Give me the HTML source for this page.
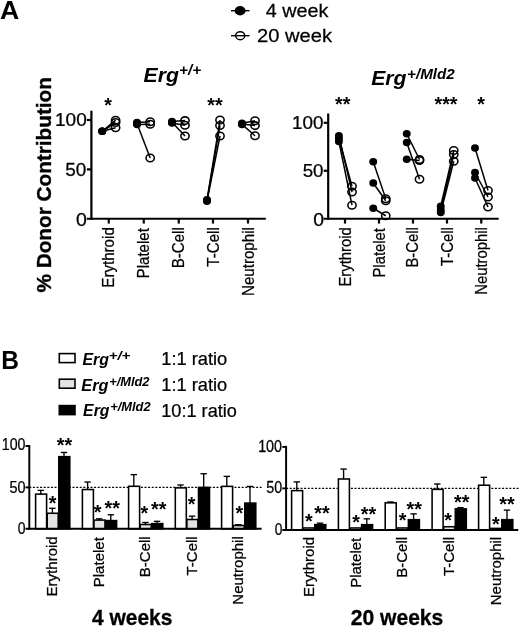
<!DOCTYPE html>
<html><head><meta charset="utf-8"><title>Figure</title>
<style>html,body{margin:0;padding:0;background:#fff}</style></head>
<body>
<svg width="520" height="633" viewBox="0 0 520 633" style="display:block">
<rect width="520" height="633" fill="#fff"/>
<g font-family='"Liberation Sans", sans-serif' fill="#000">
<text transform="translate(0.10 19.00) scale(1.0667 1)" font-size="25" font-weight="bold">A</text>
<text transform="translate(1.18 368.80) scale(0.9836 1)" font-size="25" font-weight="bold">B</text>
<line x1="231" y1="10.7" x2="249.5" y2="10.7" stroke="#000" stroke-width="1.4" />
<ellipse cx="240.1" cy="10.7" rx="5.5" ry="4.7" fill="#000"/>
<line x1="231" y1="35.7" x2="249.5" y2="35.7" stroke="#000" stroke-width="1.4" />
<ellipse cx="240.2" cy="35.7" rx="4.5" ry="4.0" fill="none" stroke="#000" stroke-width="1.5"/>
<text transform="translate(265.80 17.30) scale(1.0301 1)" font-size="19.2" stroke="#000" stroke-width="0.25">4 week</text>
<text transform="translate(256.99 41.80) scale(1.0502 1)" font-size="19.2" stroke="#000" stroke-width="0.25">20 week</text>
<text transform="translate(143.58 81.50) scale(1.0721 1)" font-size="19.8" font-weight="bold" font-style="italic">Erg</text>
<text transform="translate(179.08 75.20) scale(1.1083 1)" font-size="13.8" font-weight="bold" font-style="italic">+/+</text>
<text transform="translate(371.18 85.00) scale(1.0721 1)" font-size="19.8" font-weight="bold" font-style="italic">Erg</text>
<text transform="translate(407.09 78.80) scale(1.1023 1)" font-size="13.8" font-weight="bold" font-style="italic">+/Mld2</text>
<text transform="translate(51.20 292.52) rotate(-90) scale(0.9932 1)" font-size="20.9" font-weight="bold" stroke="#000" stroke-width="0.35">% Donor Contribution</text>
<line x1="91.4" y1="110.7" x2="91.4" y2="219.85" stroke="#000" stroke-width="2.2" />
<line x1="86.9" y1="218.75" x2="265.8" y2="218.75" stroke="#000" stroke-width="2.2" />
<line x1="86.9" y1="169.375" x2="91.4" y2="169.375" stroke="#000" stroke-width="2.2" />
<line x1="86.9" y1="120.0" x2="91.4" y2="120.0" stroke="#000" stroke-width="2.2" />
<text transform="translate(54.98 126.00) scale(1.0573 1)" font-size="18" stroke="#000" stroke-width="0.25">100</text>
<text transform="translate(65.24 175.70) scale(1.0518 1)" font-size="18" stroke="#000" stroke-width="0.25">50</text>
<text transform="translate(76.12 225.60) scale(1.0880 1)" font-size="18" stroke="#000" stroke-width="0.25">0</text>
<line x1="108.75" y1="218.75" x2="108.75" y2="223.55" stroke="#000" stroke-width="2.2" />
<line x1="143.75" y1="218.75" x2="143.75" y2="223.55" stroke="#000" stroke-width="2.2" />
<line x1="178.75" y1="218.75" x2="178.75" y2="223.55" stroke="#000" stroke-width="2.2" />
<line x1="213" y1="218.75" x2="213" y2="223.55" stroke="#000" stroke-width="2.2" />
<line x1="248" y1="218.75" x2="248" y2="223.55" stroke="#000" stroke-width="2.2" />
<text transform="translate(113.75 287.67) rotate(-90) scale(0.9000 1)" font-size="16.8" stroke="#000" stroke-width="0.25">Erythroid</text>
<text transform="translate(148.75 278.45) rotate(-90) scale(0.9000 1)" font-size="16.8" stroke="#000" stroke-width="0.25">Platelet</text>
<text transform="translate(183.75 268.32) rotate(-90) scale(0.9000 1)" font-size="16.8" stroke="#000" stroke-width="0.25">B-Cell</text>
<text transform="translate(219.00 266.66) rotate(-90) scale(0.9000 1)" font-size="16.8" stroke="#000" stroke-width="0.25">T-Cell</text>
<text transform="translate(254.00 295.99) rotate(-90) scale(0.9000 1)" font-size="16.8" stroke="#000" stroke-width="0.25">Neutrophil</text>
<line x1="102.2" y1="131.3" x2="115.6" y2="120.2" stroke="#000" stroke-width="1.5" />
<line x1="102.2" y1="131.3" x2="115.6" y2="122.5" stroke="#000" stroke-width="1.5" />
<line x1="102.2" y1="131.3" x2="115.6" y2="127.8" stroke="#000" stroke-width="1.5" />
<ellipse cx="102.2" cy="131.3" rx="3.95" ry="3.75" fill="#000"/>
<ellipse cx="102.2" cy="131.3" rx="3.95" ry="3.75" fill="#000"/>
<ellipse cx="102.2" cy="131.3" rx="3.95" ry="3.75" fill="#000"/>
<ellipse cx="115.6" cy="120.2" rx="4.15" ry="3.75" fill="none" stroke="#000" stroke-width="1.55"/>
<ellipse cx="115.6" cy="122.5" rx="4.15" ry="3.75" fill="none" stroke="#000" stroke-width="1.55"/>
<ellipse cx="115.6" cy="127.8" rx="4.15" ry="3.75" fill="none" stroke="#000" stroke-width="1.55"/>
<line x1="137" y1="122.6" x2="150.2" y2="121.8" stroke="#000" stroke-width="1.5" />
<line x1="137" y1="124.6" x2="150.2" y2="124.2" stroke="#000" stroke-width="1.5" />
<line x1="137" y1="123.6" x2="150.2" y2="158" stroke="#000" stroke-width="1.5" />
<ellipse cx="137" cy="122.6" rx="3.95" ry="3.75" fill="#000"/>
<ellipse cx="137" cy="124.6" rx="3.95" ry="3.75" fill="#000"/>
<ellipse cx="137" cy="123.6" rx="3.95" ry="3.75" fill="#000"/>
<ellipse cx="150.2" cy="121.8" rx="4.15" ry="3.75" fill="none" stroke="#000" stroke-width="1.55"/>
<ellipse cx="150.2" cy="124.2" rx="4.15" ry="3.75" fill="none" stroke="#000" stroke-width="1.55"/>
<ellipse cx="150.2" cy="158" rx="4.15" ry="3.75" fill="none" stroke="#000" stroke-width="1.55"/>
<line x1="172" y1="121.6" x2="185" y2="120.6" stroke="#000" stroke-width="1.5" />
<line x1="172" y1="123" x2="185" y2="125.3" stroke="#000" stroke-width="1.5" />
<line x1="172" y1="122.3" x2="185" y2="136" stroke="#000" stroke-width="1.5" />
<ellipse cx="172" cy="121.6" rx="3.95" ry="3.75" fill="#000"/>
<ellipse cx="172" cy="123" rx="3.95" ry="3.75" fill="#000"/>
<ellipse cx="172" cy="122.3" rx="3.95" ry="3.75" fill="#000"/>
<ellipse cx="185" cy="120.6" rx="4.15" ry="3.75" fill="none" stroke="#000" stroke-width="1.55"/>
<ellipse cx="185" cy="125.3" rx="4.15" ry="3.75" fill="none" stroke="#000" stroke-width="1.55"/>
<ellipse cx="185" cy="136" rx="4.15" ry="3.75" fill="none" stroke="#000" stroke-width="1.55"/>
<line x1="207" y1="199.8" x2="220" y2="120" stroke="#000" stroke-width="1.5" />
<line x1="207" y1="200.6" x2="220" y2="125.4" stroke="#000" stroke-width="1.5" />
<line x1="207" y1="201.2" x2="220" y2="136" stroke="#000" stroke-width="1.5" />
<ellipse cx="207" cy="199.8" rx="3.95" ry="3.75" fill="#000"/>
<ellipse cx="207" cy="200.6" rx="3.95" ry="3.75" fill="#000"/>
<ellipse cx="207" cy="201.2" rx="3.95" ry="3.75" fill="#000"/>
<ellipse cx="220" cy="120" rx="4.15" ry="3.75" fill="none" stroke="#000" stroke-width="1.55"/>
<ellipse cx="220" cy="125.4" rx="4.15" ry="3.75" fill="none" stroke="#000" stroke-width="1.55"/>
<ellipse cx="220" cy="136" rx="4.15" ry="3.75" fill="none" stroke="#000" stroke-width="1.55"/>
<line x1="242" y1="123.3" x2="255" y2="120.8" stroke="#000" stroke-width="1.5" />
<line x1="242" y1="123.9" x2="255" y2="125.6" stroke="#000" stroke-width="1.5" />
<line x1="242" y1="124.4" x2="255" y2="135.8" stroke="#000" stroke-width="1.5" />
<ellipse cx="242" cy="123.3" rx="3.95" ry="3.75" fill="#000"/>
<ellipse cx="242" cy="123.9" rx="3.95" ry="3.75" fill="#000"/>
<ellipse cx="242" cy="124.4" rx="3.95" ry="3.75" fill="#000"/>
<ellipse cx="255" cy="120.8" rx="4.15" ry="3.75" fill="none" stroke="#000" stroke-width="1.55"/>
<ellipse cx="255" cy="125.6" rx="4.15" ry="3.75" fill="none" stroke="#000" stroke-width="1.55"/>
<ellipse cx="255" cy="135.8" rx="4.15" ry="3.75" fill="none" stroke="#000" stroke-width="1.55"/>
<text transform="translate(104.26 111.75) scale(0.9600 1)" font-size="20.5" font-weight="bold">*</text>
<text transform="translate(207.32 111.75) scale(0.9600 1)" font-size="20.5" font-weight="bold">**</text>
<line x1="328.2" y1="113.5" x2="328.2" y2="219.85" stroke="#000" stroke-width="2.2" />
<line x1="323.7" y1="218.75" x2="498.7" y2="218.75" stroke="#000" stroke-width="2.2" />
<line x1="323.7" y1="170.775" x2="328.2" y2="170.775" stroke="#000" stroke-width="2.2" />
<line x1="323.7" y1="122.8" x2="328.2" y2="122.8" stroke="#000" stroke-width="2.2" />
<text transform="translate(291.99 128.70) scale(1.0466 1)" font-size="18" stroke="#000" stroke-width="0.25">100</text>
<text transform="translate(302.65 176.70) scale(1.0410 1)" font-size="18" stroke="#000" stroke-width="0.25">50</text>
<text transform="translate(313.23 225.50) scale(1.0764 1)" font-size="18" stroke="#000" stroke-width="0.25">0</text>
<line x1="345" y1="218.75" x2="345" y2="223.55" stroke="#000" stroke-width="2.2" />
<line x1="379" y1="218.75" x2="379" y2="223.55" stroke="#000" stroke-width="2.2" />
<line x1="413" y1="218.75" x2="413" y2="223.55" stroke="#000" stroke-width="2.2" />
<line x1="447" y1="218.75" x2="447" y2="223.55" stroke="#000" stroke-width="2.2" />
<line x1="481.25" y1="218.75" x2="481.25" y2="223.55" stroke="#000" stroke-width="2.2" />
<text transform="translate(350.80 286.61) rotate(-90) scale(0.9000 1)" font-size="16.5" stroke="#000" stroke-width="0.25">Erythroid</text>
<text transform="translate(384.80 277.55) rotate(-90) scale(0.9000 1)" font-size="16.5" stroke="#000" stroke-width="0.25">Platelet</text>
<text transform="translate(418.40 267.60) rotate(-90) scale(0.9000 1)" font-size="16.5" stroke="#000" stroke-width="0.25">B-Cell</text>
<text transform="translate(452.70 265.97) rotate(-90) scale(0.9000 1)" font-size="16.5" stroke="#000" stroke-width="0.25">T-Cell</text>
<text transform="translate(486.70 294.78) rotate(-90) scale(0.9000 1)" font-size="16.5" stroke="#000" stroke-width="0.25">Neutrophil</text>
<line x1="338.9" y1="135.75" x2="352" y2="192" stroke="#000" stroke-width="1.5" />
<line x1="338.9" y1="138.75" x2="352" y2="186.25" stroke="#000" stroke-width="1.5" />
<line x1="338.9" y1="141.5" x2="352" y2="205.2" stroke="#000" stroke-width="1.5" />
<ellipse cx="338.9" cy="135.75" rx="3.95" ry="3.75" fill="#000"/>
<ellipse cx="338.9" cy="138.75" rx="3.95" ry="3.75" fill="#000"/>
<ellipse cx="338.9" cy="141.5" rx="3.95" ry="3.75" fill="#000"/>
<ellipse cx="352" cy="192" rx="4.15" ry="3.75" fill="none" stroke="#000" stroke-width="1.55"/>
<ellipse cx="352" cy="186.25" rx="4.15" ry="3.75" fill="none" stroke="#000" stroke-width="1.55"/>
<ellipse cx="352" cy="205.2" rx="4.15" ry="3.75" fill="none" stroke="#000" stroke-width="1.55"/>
<line x1="373.25" y1="161.75" x2="385.75" y2="198.75" stroke="#000" stroke-width="1.5" />
<line x1="373.25" y1="183" x2="385.75" y2="200.75" stroke="#000" stroke-width="1.5" />
<line x1="373.25" y1="208.25" x2="385.75" y2="215.75" stroke="#000" stroke-width="1.5" />
<ellipse cx="373.25" cy="161.75" rx="3.95" ry="3.75" fill="#000"/>
<ellipse cx="373.25" cy="183" rx="3.95" ry="3.75" fill="#000"/>
<ellipse cx="373.25" cy="208.25" rx="3.95" ry="3.75" fill="#000"/>
<ellipse cx="385.75" cy="198.75" rx="4.15" ry="3.75" fill="none" stroke="#000" stroke-width="1.55"/>
<ellipse cx="385.75" cy="200.75" rx="4.15" ry="3.75" fill="none" stroke="#000" stroke-width="1.55"/>
<ellipse cx="385.75" cy="215.75" rx="4.15" ry="3.75" fill="none" stroke="#000" stroke-width="1.55"/>
<line x1="406.75" y1="133.75" x2="419.5" y2="159.5" stroke="#000" stroke-width="1.5" />
<line x1="406.75" y1="142.5" x2="419.5" y2="179.25" stroke="#000" stroke-width="1.5" />
<line x1="406.75" y1="159.25" x2="419.5" y2="160.5" stroke="#000" stroke-width="1.5" />
<ellipse cx="406.75" cy="133.75" rx="3.95" ry="3.75" fill="#000"/>
<ellipse cx="406.75" cy="142.5" rx="3.95" ry="3.75" fill="#000"/>
<ellipse cx="406.75" cy="159.25" rx="3.95" ry="3.75" fill="#000"/>
<ellipse cx="419.5" cy="159.5" rx="4.15" ry="3.75" fill="none" stroke="#000" stroke-width="1.55"/>
<ellipse cx="419.5" cy="179.25" rx="4.15" ry="3.75" fill="none" stroke="#000" stroke-width="1.55"/>
<ellipse cx="419.5" cy="160.5" rx="4.15" ry="3.75" fill="none" stroke="#000" stroke-width="1.55"/>
<line x1="440.75" y1="206.25" x2="453.75" y2="150.5" stroke="#000" stroke-width="1.5" />
<line x1="440.75" y1="210" x2="453.75" y2="154.5" stroke="#000" stroke-width="1.5" />
<line x1="440.75" y1="212.5" x2="453.75" y2="161.25" stroke="#000" stroke-width="1.5" />
<ellipse cx="440.75" cy="206.25" rx="3.95" ry="3.75" fill="#000"/>
<ellipse cx="440.75" cy="210" rx="3.95" ry="3.75" fill="#000"/>
<ellipse cx="440.75" cy="212.5" rx="3.95" ry="3.75" fill="#000"/>
<ellipse cx="453.75" cy="150.5" rx="4.15" ry="3.75" fill="none" stroke="#000" stroke-width="1.55"/>
<ellipse cx="453.75" cy="154.5" rx="4.15" ry="3.75" fill="none" stroke="#000" stroke-width="1.55"/>
<ellipse cx="453.75" cy="161.25" rx="4.15" ry="3.75" fill="none" stroke="#000" stroke-width="1.55"/>
<line x1="475" y1="148" x2="488" y2="190.5" stroke="#000" stroke-width="1.5" />
<line x1="475" y1="172.5" x2="488" y2="197" stroke="#000" stroke-width="1.5" />
<line x1="475" y1="178" x2="488" y2="207" stroke="#000" stroke-width="1.5" />
<ellipse cx="475" cy="148" rx="3.95" ry="3.75" fill="#000"/>
<ellipse cx="475" cy="172.5" rx="3.95" ry="3.75" fill="#000"/>
<ellipse cx="475" cy="178" rx="3.95" ry="3.75" fill="#000"/>
<ellipse cx="488" cy="190.5" rx="4.15" ry="3.75" fill="none" stroke="#000" stroke-width="1.55"/>
<ellipse cx="488" cy="197" rx="4.15" ry="3.75" fill="none" stroke="#000" stroke-width="1.55"/>
<ellipse cx="488" cy="207" rx="4.15" ry="3.75" fill="none" stroke="#000" stroke-width="1.55"/>
<text transform="translate(335.02 110.70) scale(0.9600 1)" font-size="20.5" font-weight="bold">**</text>
<text transform="translate(434.49 110.70) scale(0.9600 1)" font-size="20.5" font-weight="bold">***</text>
<text transform="translate(477.26 110.70) scale(0.9600 1)" font-size="20.5" font-weight="bold">*</text>
<rect x="59.3" y="353.6" width="15.7" height="9" fill="#fff" stroke="#000" stroke-width="1.6"/>
<rect x="59.3" y="379.2" width="15.7" height="9" fill="#e3e3e3" stroke="#000" stroke-width="1.6"/>
<rect x="59.3" y="405.6" width="15.7" height="9" fill="#000" stroke="#000" stroke-width="1.6"/>
<text transform="translate(82.48 364.70) scale(1.0096 1)" font-size="15.8" font-weight="bold" font-style="italic">Erg</text>
<text transform="translate(108.70 360.00) scale(1.2500 1)" font-size="12" font-weight="bold" font-style="italic">+/+</text>
<text transform="translate(161.24 364.60) scale(0.9724 1)" font-size="18.8" stroke="#000" stroke-width="0.25">1:1 ratio</text>
<text transform="translate(81.37 391.00) scale(1.0290 1)" font-size="15.8" font-weight="bold" font-style="italic">Erg</text>
<text transform="translate(109.13 386.20) scale(1.0722 1)" font-size="12" font-weight="bold" font-style="italic">+/Mld2</text>
<text transform="translate(161.24 391.40) scale(0.9724 1)" font-size="18.8" stroke="#000" stroke-width="0.25">1:1 ratio</text>
<text transform="translate(83.08 416.00) scale(1.0018 1)" font-size="15.8" font-weight="bold" font-style="italic">Erg</text>
<text transform="translate(110.13 410.70) scale(1.0749 1)" font-size="12" font-weight="bold" font-style="italic">+/Mld2</text>
<text transform="translate(161.25 416.80) scale(0.9666 1)" font-size="18.8" stroke="#000" stroke-width="0.25">10:1 ratio</text>
<line x1="29.3" y1="487.4" x2="261.6" y2="487.4" stroke="#000" stroke-width="1.25" stroke-dasharray="2 1.6"/>
<line x1="40.8" y1="490.37125" x2="40.8" y2="494.1175" stroke="#000" stroke-width="1.35" />
<line x1="37.599999999999994" y1="490.37125" x2="44.0" y2="490.37125" stroke="#000" stroke-width="1.35" />
<rect x="35.6" y="494.1175" width="11.0" height="34.68249999999995" fill="#fff" stroke="#000" stroke-width="1.55"/>
<line x1="52.4" y1="508.27" x2="52.4" y2="513.265" stroke="#000" stroke-width="1.35" />
<line x1="49.199999999999996" y1="508.27" x2="55.6" y2="508.27" stroke="#000" stroke-width="1.35" />
<rect x="47.2" y="513.265" width="11.0" height="15.534999999999968" fill="#e3e3e3" stroke="#000" stroke-width="1.55"/>
<line x1="64.0" y1="452.4925" x2="64.0" y2="456.655" stroke="#000" stroke-width="1.35" />
<line x1="60.8" y1="452.4925" x2="67.2" y2="452.4925" stroke="#000" stroke-width="1.35" />
<rect x="58.800000000000004" y="456.655" width="11.0" height="72.14499999999998" fill="#000" stroke="#000" stroke-width="1.55"/>
<line x1="87.6" y1="482.04625" x2="87.6" y2="489.53875" stroke="#000" stroke-width="1.35" />
<line x1="84.39999999999999" y1="482.04625" x2="90.8" y2="482.04625" stroke="#000" stroke-width="1.35" />
<rect x="82.39999999999999" y="489.53875" width="11.0" height="39.26124999999996" fill="#fff" stroke="#000" stroke-width="1.55"/>
<line x1="99.19999999999999" y1="518.84275" x2="99.19999999999999" y2="520.0915" stroke="#000" stroke-width="1.35" />
<line x1="95.99999999999999" y1="518.84275" x2="102.39999999999999" y2="518.84275" stroke="#000" stroke-width="1.35" />
<rect x="93.99999999999999" y="520.0915" width="11.0" height="8.708499999999958" fill="#e3e3e3" stroke="#000" stroke-width="1.55"/>
<line x1="110.8" y1="514.7635" x2="110.8" y2="520.591" stroke="#000" stroke-width="1.35" />
<line x1="107.6" y1="514.7635" x2="114.0" y2="514.7635" stroke="#000" stroke-width="1.35" />
<rect x="105.6" y="520.591" width="11.0" height="8.208999999999946" fill="#000" stroke="#000" stroke-width="1.55"/>
<line x1="133.8" y1="474.637" x2="133.8" y2="486.29200000000003" stroke="#000" stroke-width="1.35" />
<line x1="130.60000000000002" y1="474.637" x2="137.0" y2="474.637" stroke="#000" stroke-width="1.35" />
<rect x="128.6" y="486.29200000000003" width="11.0" height="42.507999999999925" fill="#fff" stroke="#000" stroke-width="1.55"/>
<line x1="145.4" y1="522.50575" x2="145.4" y2="524.50375" stroke="#000" stroke-width="1.35" />
<line x1="142.20000000000002" y1="522.50575" x2="148.6" y2="522.50575" stroke="#000" stroke-width="1.35" />
<rect x="140.2" y="524.50375" width="11.0" height="4.296249999999986" fill="#e3e3e3" stroke="#000" stroke-width="1.55"/>
<line x1="157.0" y1="521.34025" x2="157.0" y2="523.588" stroke="#000" stroke-width="1.35" />
<line x1="153.8" y1="521.34025" x2="160.2" y2="521.34025" stroke="#000" stroke-width="1.35" />
<rect x="151.79999999999998" y="523.588" width="11.0" height="5.211999999999989" fill="#000" stroke="#000" stroke-width="1.55"/>
<line x1="180.5" y1="484.96" x2="180.5" y2="487.87375" stroke="#000" stroke-width="1.35" />
<line x1="177.3" y1="484.96" x2="183.7" y2="484.96" stroke="#000" stroke-width="1.35" />
<rect x="175.29999999999998" y="487.87375" width="11.0" height="40.92624999999998" fill="#fff" stroke="#000" stroke-width="1.55"/>
<line x1="192.1" y1="516.17875" x2="192.1" y2="519.50875" stroke="#000" stroke-width="1.35" />
<line x1="188.9" y1="516.17875" x2="195.29999999999998" y2="516.17875" stroke="#000" stroke-width="1.35" />
<rect x="186.89999999999998" y="519.50875" width="11.0" height="9.291249999999991" fill="#e3e3e3" stroke="#000" stroke-width="1.55"/>
<line x1="203.7" y1="473.72125" x2="203.7" y2="487.4575" stroke="#000" stroke-width="1.35" />
<line x1="200.5" y1="473.72125" x2="206.89999999999998" y2="473.72125" stroke="#000" stroke-width="1.35" />
<rect x="198.49999999999997" y="487.4575" width="11.0" height="41.34249999999997" fill="#000" stroke="#000" stroke-width="1.55"/>
<line x1="226.8" y1="476.38525" x2="226.8" y2="486.37525" stroke="#000" stroke-width="1.35" />
<line x1="223.60000000000002" y1="476.38525" x2="230.0" y2="476.38525" stroke="#000" stroke-width="1.35" />
<rect x="221.6" y="486.37525" width="11.0" height="42.42474999999996" fill="#fff" stroke="#000" stroke-width="1.55"/>
<line x1="238.4" y1="524.67025" x2="238.4" y2="525.50275" stroke="#000" stroke-width="1.35" />
<line x1="235.20000000000002" y1="524.67025" x2="241.6" y2="524.67025" stroke="#000" stroke-width="1.35" />
<rect x="233.2" y="525.50275" width="11.0" height="3.2972499999999627" fill="#e3e3e3" stroke="#000" stroke-width="1.55"/>
<line x1="250.0" y1="486.4585" x2="250.0" y2="503.1085" stroke="#000" stroke-width="1.35" />
<line x1="246.8" y1="486.4585" x2="253.2" y2="486.4585" stroke="#000" stroke-width="1.35" />
<rect x="244.79999999999998" y="503.1085" width="11.0" height="25.691499999999962" fill="#000" stroke="#000" stroke-width="1.55"/>
<line x1="29.3" y1="445.025" x2="29.3" y2="529.775" stroke="#000" stroke-width="1.95" />
<line x1="25.5" y1="528.8" x2="261.6" y2="528.8" stroke="#000" stroke-width="1.95" />
<line x1="25.5" y1="487.4" x2="29.3" y2="487.4" stroke="#000" stroke-width="1.95" />
<line x1="25.5" y1="446.0" x2="29.3" y2="446.0" stroke="#000" stroke-width="1.95" />
<text transform="translate(1.76 450.25) scale(0.8871 1)" font-size="16" stroke="#000" stroke-width="0.25">100</text>
<text transform="translate(9.42 492.50) scale(0.9041 1)" font-size="16" stroke="#000" stroke-width="0.25">50</text>
<text transform="translate(17.64 533.75) scale(0.8724 1)" font-size="16" stroke="#000" stroke-width="0.25">0</text>
<text transform="translate(57.30 596.40) rotate(-90) scale(0.9950 1)" font-size="15.1" stroke="#000" stroke-width="0.25">Erythroid</text>
<text transform="translate(104.10 587.23) rotate(-90) scale(0.9950 1)" font-size="15.1" stroke="#000" stroke-width="0.25">Platelet</text>
<text transform="translate(150.30 577.17) rotate(-90) scale(0.9950 1)" font-size="15.1" stroke="#000" stroke-width="0.25">B-Cell</text>
<text transform="translate(197.00 575.51) rotate(-90) scale(0.9950 1)" font-size="15.1" stroke="#000" stroke-width="0.25">T-Cell</text>
<text transform="translate(243.30 604.66) rotate(-90) scale(0.9950 1)" font-size="15.1" stroke="#000" stroke-width="0.25">Neutrophil</text>
<text transform="translate(48.64 510.00) scale(0.9900 1)" font-size="20" font-weight="bold">*</text>
<text transform="translate(56.78 452.00) scale(0.9900 1)" font-size="20" font-weight="bold">**</text>
<text transform="translate(93.84 518.60) scale(0.9900 1)" font-size="20" font-weight="bold">*</text>
<text transform="translate(104.58 515.30) scale(0.9900 1)" font-size="20" font-weight="bold">**</text>
<text transform="translate(140.54 519.50) scale(0.9900 1)" font-size="20" font-weight="bold">*</text>
<text transform="translate(150.98 516.00) scale(0.9900 1)" font-size="20" font-weight="bold">**</text>
<text transform="translate(187.64 510.60) scale(0.9900 1)" font-size="20" font-weight="bold">*</text>
<text transform="translate(235.54 519.50) scale(0.9900 1)" font-size="20" font-weight="bold">*</text>
<text transform="translate(92.08 624.80) scale(0.9838 1)" font-size="21.3" font-weight="bold" stroke="#000" stroke-width="0.3">4 weeks</text>
<line x1="286.1" y1="488.4" x2="521" y2="488.4" stroke="#000" stroke-width="1.25" stroke-dasharray="2 1.6"/>
<line x1="296.8" y1="481.905" x2="296.8" y2="490.61999999999995" stroke="#000" stroke-width="1.35" />
<line x1="293.6" y1="481.905" x2="300.0" y2="481.905" stroke="#000" stroke-width="1.35" />
<rect x="291.6" y="490.61999999999995" width="11.0" height="39.28000000000003" fill="#fff" stroke="#000" stroke-width="1.55"/>
<rect x="303.20000000000005" y="527.9699999999999" width="11.0" height="1.9300000000000637" fill="#e3e3e3" stroke="#000" stroke-width="1.55"/>
<line x1="320.0" y1="523.156" x2="320.0" y2="524.65" stroke="#000" stroke-width="1.35" />
<line x1="316.8" y1="523.156" x2="323.2" y2="523.156" stroke="#000" stroke-width="1.35" />
<rect x="314.8" y="524.65" width="11.0" height="5.25" fill="#000" stroke="#000" stroke-width="1.55"/>
<line x1="343.6" y1="469.03999999999996" x2="343.6" y2="478.99999999999994" stroke="#000" stroke-width="1.35" />
<line x1="340.40000000000003" y1="469.03999999999996" x2="346.8" y2="469.03999999999996" stroke="#000" stroke-width="1.35" />
<rect x="338.40000000000003" y="478.99999999999994" width="11.0" height="50.900000000000034" fill="#fff" stroke="#000" stroke-width="1.55"/>
<rect x="350.00000000000006" y="527.9699999999999" width="11.0" height="1.9300000000000637" fill="#e3e3e3" stroke="#000" stroke-width="1.55"/>
<line x1="366.8" y1="518.8399999999999" x2="366.8" y2="524.65" stroke="#000" stroke-width="1.35" />
<line x1="363.6" y1="518.8399999999999" x2="370.0" y2="518.8399999999999" stroke="#000" stroke-width="1.35" />
<rect x="361.6" y="524.65" width="11.0" height="5.25" fill="#000" stroke="#000" stroke-width="1.55"/>
<line x1="390.40000000000003" y1="501.991" x2="390.40000000000003" y2="502.82099999999997" stroke="#000" stroke-width="1.35" />
<line x1="387.20000000000005" y1="501.991" x2="393.6" y2="501.991" stroke="#000" stroke-width="1.35" />
<rect x="385.20000000000005" y="502.82099999999997" width="11.0" height="27.079000000000008" fill="#fff" stroke="#000" stroke-width="1.55"/>
<rect x="396.80000000000007" y="527.9699999999999" width="11.0" height="1.9300000000000637" fill="#e3e3e3" stroke="#000" stroke-width="1.55"/>
<line x1="413.6" y1="513.8599999999999" x2="413.6" y2="519.67" stroke="#000" stroke-width="1.35" />
<line x1="410.40000000000003" y1="513.8599999999999" x2="416.8" y2="513.8599999999999" stroke="#000" stroke-width="1.35" />
<rect x="408.40000000000003" y="519.67" width="11.0" height="10.230000000000018" fill="#000" stroke="#000" stroke-width="1.55"/>
<line x1="437.3" y1="483.97999999999996" x2="437.3" y2="489.37499999999994" stroke="#000" stroke-width="1.35" />
<line x1="434.1" y1="483.97999999999996" x2="440.5" y2="483.97999999999996" stroke="#000" stroke-width="1.35" />
<rect x="432.1" y="489.37499999999994" width="11.0" height="40.525000000000034" fill="#fff" stroke="#000" stroke-width="1.55"/>
<rect x="443.70000000000005" y="526.7249999999999" width="11.0" height="3.175000000000068" fill="#e3e3e3" stroke="#000" stroke-width="1.55"/>
<line x1="460.5" y1="507.63499999999993" x2="460.5" y2="508.87999999999994" stroke="#000" stroke-width="1.35" />
<line x1="457.3" y1="507.63499999999993" x2="463.7" y2="507.63499999999993" stroke="#000" stroke-width="1.35" />
<rect x="455.3" y="508.87999999999994" width="11.0" height="21.02000000000004" fill="#000" stroke="#000" stroke-width="1.55"/>
<line x1="483.8" y1="477.34" x2="483.8" y2="485.22499999999997" stroke="#000" stroke-width="1.35" />
<line x1="480.6" y1="477.34" x2="487.0" y2="477.34" stroke="#000" stroke-width="1.35" />
<rect x="478.6" y="485.22499999999997" width="11.0" height="44.67500000000001" fill="#fff" stroke="#000" stroke-width="1.55"/>
<rect x="490.20000000000005" y="528.385" width="11.0" height="1.5149999999999864" fill="#e3e3e3" stroke="#000" stroke-width="1.55"/>
<line x1="507.0" y1="510.12499999999994" x2="507.0" y2="519.67" stroke="#000" stroke-width="1.35" />
<line x1="503.8" y1="510.12499999999994" x2="510.2" y2="510.12499999999994" stroke="#000" stroke-width="1.35" />
<rect x="501.8" y="519.67" width="11.0" height="10.230000000000018" fill="#000" stroke="#000" stroke-width="1.55"/>
<line x1="286.1" y1="445.92499999999995" x2="286.1" y2="530.875" stroke="#000" stroke-width="1.95" />
<line x1="282.3" y1="529.9" x2="518.2" y2="529.9" stroke="#000" stroke-width="1.95" />
<line x1="282.3" y1="488.4" x2="286.1" y2="488.4" stroke="#000" stroke-width="1.95" />
<line x1="282.3" y1="446.9" x2="286.1" y2="446.9" stroke="#000" stroke-width="1.95" />
<text transform="translate(258.15 451.60) scale(0.8952 1)" font-size="16" stroke="#000" stroke-width="0.25">100</text>
<text transform="translate(266.23 493.20) scale(0.8920 1)" font-size="16" stroke="#000" stroke-width="0.25">50</text>
<text transform="translate(274.65 535.00) scale(0.8594 1)" font-size="16" stroke="#000" stroke-width="0.25">0</text>
<text transform="translate(313.75 597.00) rotate(-90) scale(0.9950 1)" font-size="15.1" stroke="#000" stroke-width="0.25">Erythroid</text>
<text transform="translate(360.55 587.83) rotate(-90) scale(0.9950 1)" font-size="15.1" stroke="#000" stroke-width="0.25">Platelet</text>
<text transform="translate(407.35 577.77) rotate(-90) scale(0.9950 1)" font-size="15.1" stroke="#000" stroke-width="0.25">B-Cell</text>
<text transform="translate(454.25 576.11) rotate(-90) scale(0.9950 1)" font-size="15.1" stroke="#000" stroke-width="0.25">T-Cell</text>
<text transform="translate(500.75 605.26) rotate(-90) scale(0.9950 1)" font-size="15.1" stroke="#000" stroke-width="0.25">Neutrophil</text>
<text transform="translate(304.94 527.80) scale(0.9900 1)" font-size="20" font-weight="bold">*</text>
<text transform="translate(314.18 519.80) scale(0.9900 1)" font-size="20" font-weight="bold">**</text>
<text transform="translate(352.24 528.50) scale(0.9900 1)" font-size="20" font-weight="bold">*</text>
<text transform="translate(360.78 520.50) scale(0.9900 1)" font-size="20" font-weight="bold">**</text>
<text transform="translate(398.84 526.90) scale(0.9900 1)" font-size="20" font-weight="bold">*</text>
<text transform="translate(406.53 515.55) scale(0.9900 1)" font-size="20" font-weight="bold">**</text>
<text transform="translate(444.14 526.80) scale(0.9900 1)" font-size="20" font-weight="bold">*</text>
<text transform="translate(454.03 508.80) scale(0.9900 1)" font-size="20" font-weight="bold">**</text>
<text transform="translate(491.89 530.55) scale(0.9900 1)" font-size="20" font-weight="bold">*</text>
<text transform="translate(499.28 510.55) scale(0.9900 1)" font-size="20" font-weight="bold">**</text>
<text transform="translate(350.67 624.80) scale(0.9911 1)" font-size="21.3" font-weight="bold" stroke="#000" stroke-width="0.3">20 weeks</text>
</g></svg>
</body></html>
